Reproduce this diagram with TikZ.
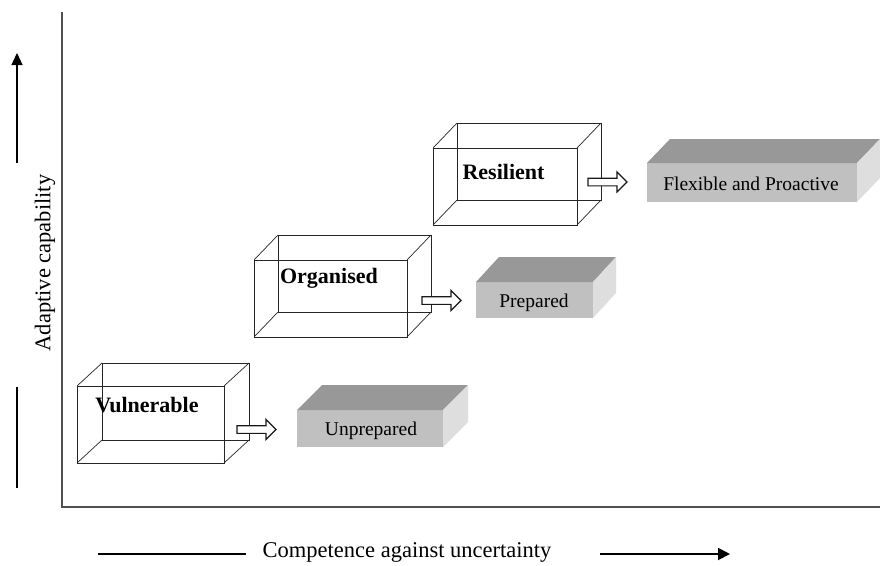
\documentclass[tikz,border=0pt]{standalone}
\usepackage{fontspec}
\setmainfont{Liberation Serif}
\usetikzlibrary{arrows.meta}
\definecolor{frontgray}{RGB}{192,192,192}
\definecolor{topgray}{RGB}{152,152,152}
\definecolor{sidegray}{RGB}{222,222,222}
\definecolor{axisgray}{RGB}{80,80,80}
\tikzset{
  wire/.style={line width=0.7pt, draw=black!85},
  axisline/.style={line width=1.6pt, draw=axisgray},
  bold label/.style={font=\fontsize{22}{24}\selectfont\bfseries, inner sep=0pt},
  grey label/.style={font=\fontsize{19.5}{22}\selectfont, inner sep=0pt},
  axis label/.style={font=\fontsize{22.5}{25}\selectfont, inner sep=0pt},
  blockarrow/.pic={\draw[fill=white, line width=1.1pt, draw=black!90] (0,-3.8) -- (29,-3.8) -- (29,-10) -- (39,0) -- (29,10) -- (29,3.8) -- (0,3.8) -- cycle;}
}
\newcommand{\wirebox}[6]{% x1 y1 x2 y2 dx dy
  \draw[wire] (#1,#2) rectangle (#3,#4);
  \draw[wire] ({#1+#5},{#2+#6}) rectangle ({#3+#5},{#4+#6});
  \draw[wire] (#1,#2) -- ({#1+#5},{#2+#6});
  \draw[wire] (#3,#2) -- ({#3+#5},{#2+#6});
  \draw[wire] (#1,#4) -- ({#1+#5},{#4+#6});
  \draw[wire] (#3,#4) -- ({#3+#5},{#4+#6});
}
\newcommand{\greybox}[6]{% x1 y1 x2 y2 dx dy
  \fill[frontgray] (#1,#2) rectangle (#3,#4);
  \fill[topgray] (#1,#2) -- ({#1+#5},{#2+#6}) -- ({#3+#5},{#2+#6}) -- (#3,#2) -- cycle;
  \fill[sidegray] (#3,#2) -- ({#3+#5},{#2+#6}) -- ({#3+#5},{#4+#6}) -- (#3,#4) -- cycle;
}
\begin{document}
\begin{tikzpicture}[x=1pt,y=-1pt]
\useasboundingbox (0,0) rectangle (880,565);
\fill[white] (0,0) rectangle (880,565);

% axes
\coordinate (o) at (62,507);
\coordinate (ytop) at (62,12);
\coordinate (xend) at (880,507);
\draw[axisline] (ytop) -- (o) -- (xend);

% y axis label and arrow
\node[axis label, rotate=90] (ylab) at (45,263) {Adaptive capability};
\coordinate (ya1) at (17,163);
\coordinate (ya2) at (17,53);
\draw[line width=1.1pt, -{Triangle[length=12pt,width=11pt]}] (ya1) -- (ya2);
\coordinate (yb1) at (17,387);
\coordinate (yb2) at (17,488);
\draw[line width=1.1pt] (yb1) -- (yb2);

% x axis label and arrow
\node[axis label] (xlab) at (407,552) {Competence against uncertainty};
\coordinate (xa1) at (98,554);
\coordinate (xa2) at (246,554);
\draw[line width=1.1pt] (xa1) -- (xa2);
\coordinate (xb1) at (600,554);
\coordinate (xb2) at (730,554);
\draw[line width=1.8pt, -{Triangle[length=12pt,width=12pt]}] (xb1) -- (xb2);

% wireframe boxes
\wirebox{77}{386}{224}{463}{25}{-23}
\wirebox{254}{260}{407}{337}{24}{-25}
\wirebox{433}{148}{577}{225}{24}{-25}
\node[bold label] (vul) at (147,405) {Vulnerable};
\node[bold label] (org) at (329,278) {Organised};
\node[bold label] (res) at (503.5,172) {Resilient};

% grey boxes
\greybox{297}{410}{443}{447}{25}{-25}
\greybox{476}{282}{593}{318}{23}{-25}
\greybox{647}{163}{857}{202}{23}{-24}
\node[grey label] (unp) at (371,431) {Unprepared};
\node[grey label] (pre) at (534,303) {Prepared};
\node[grey label] (flex) at (751,184) {Flexible and Proactive};

% block arrows
\pic at (237,429.5) {blockarrow};
\pic at (422,300.5) {blockarrow};
\pic at (588,182) {blockarrow};
\end{tikzpicture}
\end{document}
